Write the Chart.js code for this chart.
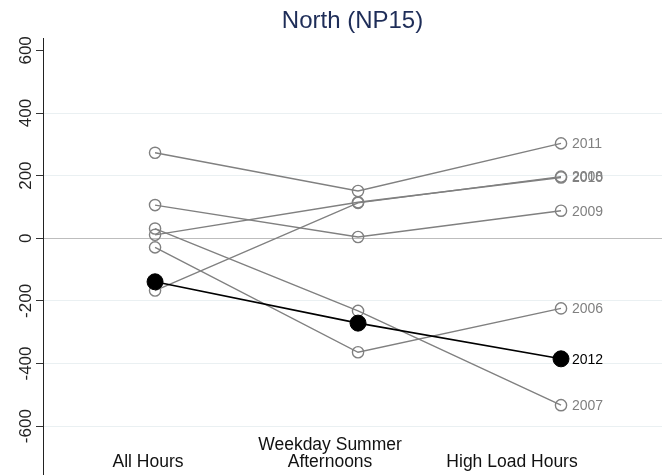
<!DOCTYPE html>
<html>
<head>
<meta charset="utf-8">
<script src="https://cdn.jsdelivr.net/npm/chart.js@4"></script>
<style>
  html, body { margin: 0; padding: 0; background: #ffffff; }
  #wrap { width: 662px; height: 475px; }
</style>
</head>
<body>
<div id="wrap"><canvas id="c" width="662" height="475"></canvas></div>
<script>
// Price differences by period, one line per year
const categories = ['All Hours', ['Weekday Summer', 'Afternoons'], 'High Load Hours'];
const years = ['2006', '2007', '2008', '2009', '2010', '2011', '2012'];
const v2006 = [-29, -364, -224];
const v2007 = [31, -232, -533];
const v2008 = [-167, 113, 197];
const v2009 = [106, 4, 88];
const v2010 = [11, 115, 194];
const v2011 = [273, 151, 303];
const v2012 = [-139, -271, -385];
const yTicks = [-600, -400, -200, 0, 200, 400, 600];
const highlightYear = '2012';

const seriesByYear = {
  '2006': v2006, '2007': v2007, '2008': v2008, '2009': v2009,
  '2010': v2010, '2011': v2011, '2012': v2012
};

const GREY = '#808080';
const FONT = "'Liberation Sans', Arial, sans-serif";

const datasets = years.map(yr => {
  const hi = yr === highlightYear;
  return {
    label: yr,
    data: seriesByYear[yr].map((v, i) => ({ x: i + 1, y: v })),
    borderColor: hi ? '#000000' : GREY,
    borderWidth: hi ? 1.6 : 1.4,
    pointRadius: hi ? 8 : 5.6,
    pointBorderWidth: hi ? 1 : 1.4,
    pointBorderColor: hi ? '#000000' : GREY,
    pointBackgroundColor: hi ? '#000000' : 'rgba(0,0,0,0)',
    fill: false,
    tension: 0,
    order: hi ? 0 : 1
  };
});

// Year names written just right of each line's last point
const endLabels = {
  id: 'endLabels',
  afterDatasetsDraw(chart) {
    const ctx = chart.ctx;
    ctx.save();
    ctx.font = '14px ' + FONT;
    ctx.textAlign = 'left';
    ctx.textBaseline = 'middle';
    chart.data.datasets.forEach((ds, i) => {
      const meta = chart.getDatasetMeta(i);
      const pt = meta.data[meta.data.length - 1];
      ctx.fillStyle = ds.label === highlightYear ? '#000000' : GREY;
      ctx.fillText(ds.label, pt.x + 11, pt.y + 1);
    });
    ctx.restore();
  }
};

new Chart(document.getElementById('c'), {
  type: 'line',
  data: { datasets },
  plugins: [endLabels],
  options: {
    responsive: false,
    animation: false,
    devicePixelRatio: 1,
    layout: { padding: 0, autoPadding: false },
    plugins: {
      legend: { display: false },
      tooltip: { enabled: false },
      title: {
        display: true,
        text: 'North (NP15)',
        color: '#1e2d58',
        fullSize: false,
        font: { family: FONT, size: 24, weight: 'normal', lineHeight: 1.2 },
        padding: { top: 7, bottom: 3 }
      }
    },
    scales: {
      x: {
        type: 'linear',
        display: false,
        min: 0.448,
        max: 3.4975
      },
      xl: {
        type: 'linear',
        axis: 'x',
        position: { y: -662 },
        min: 0.423,
        max: 3.824,
        afterBuildTicks: (s) => { s.ticks = [1, 2, 3].map(v => ({ value: v })); },
        grid: { display: false, drawTicks: false },
        border: { display: false },
        ticks: {
          autoSkip: false,
          maxRotation: 0,
          minRotation: 0,
          padding: 0,
          crossAlign: 'far',
          color: '#111111',
          font: { family: FONT, size: 17.5, lineHeight: '16.7px' },
          callback: (v) => categories[v - 1]
        }
      },
      y: {
        type: 'linear',
        position: 'left',
        min: -756,
        max: 637,
        afterBuildTicks: (s) => { s.ticks = yTicks.map(v => ({ value: v })); },
        afterFit: (s) => { s.width = 43; s.paddingTop = 0; s.paddingBottom = 0; },
        border: { display: true, color: '#222222', width: 1 },
        grid: {
          drawTicks: true,
          tickLength: 7,
          tickColor: '#333333',
          lineWidth: 1,
          color: (c) => {
            if (!c.tick) return 'rgba(0,0,0,0)';
            if (c.tick.value === 0) return '#bdbdbd';
            if (c.tick.value === 600) return 'rgba(0,0,0,0)';
            return '#eaf0f2';
          }
        },
        ticks: {
          minRotation: 90,
          maxRotation: 90,
          crossAlign: 'center',
          padding: -7,
          color: '#222222',
          font: { family: FONT, size: 17 },
          callback: (v) => String(v)
        }
      }
    }
  }
});
</script>
</body>
</html>
